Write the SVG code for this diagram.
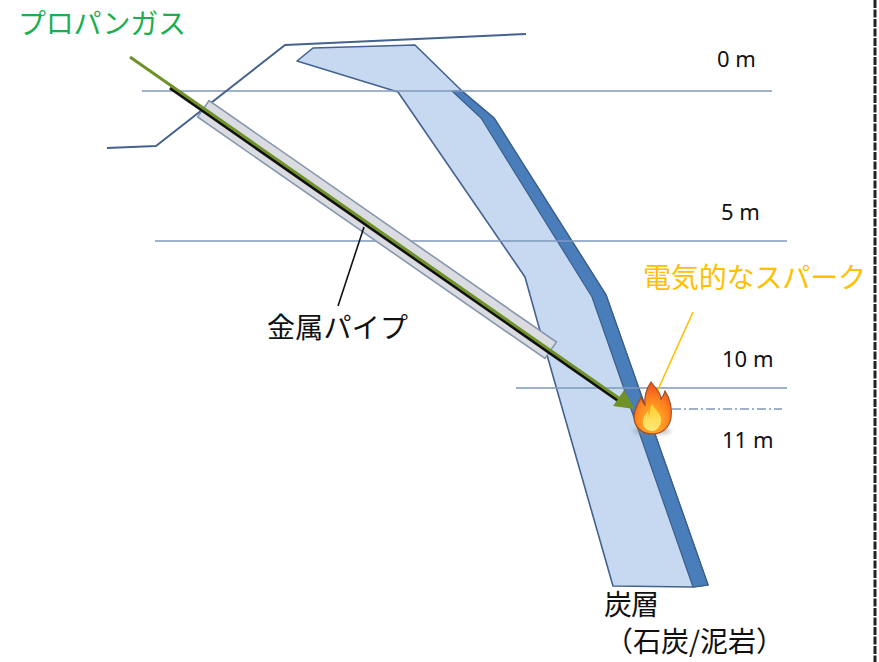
<svg xmlns="http://www.w3.org/2000/svg" width="879" height="662" viewBox="0 0 879 662">
  <defs>
    <style>
      .level { stroke: #7f98bd; stroke-width: 1.5; fill: none; }
      .ground { stroke: #44628f; stroke-width: 2; fill: none; stroke-linejoin: round; }
      .seam { fill: #c6d9f0; stroke: #44628f; stroke-width: 1.6; stroke-linejoin: round; }
      .seam-dark { fill: #4a7ebb; stroke: #3b5f8c; stroke-width: 1.2; stroke-linejoin: round; }
      .depth { font-family: "Noto Sans", "Open Sans", sans-serif; font-size: 22px; fill: #111; }
      .jp { font-family: "Noto Sans CJK JP", "Noto Sans", sans-serif; font-size: 28px; }
      .leader { stroke-width: 1.6; fill: none; }
    </style>
    <marker id="arrowGreen" viewBox="0 0 10 10" refX="9" refY="5" markerWidth="7.5" markerHeight="6.5" orient="auto" markerUnits="strokeWidth">
      <path d="M0,0 L10,5 L0,10 Z" fill="#6f9128"/>
    </marker>
    <radialGradient id="flameOuter" cx="0.5" cy="0.75" r="0.7">
      <stop offset="0" stop-color="#ffc233"/>
      <stop offset="0.55" stop-color="#ff8a1e"/>
      <stop offset="1" stop-color="#f0541e"/>
    </radialGradient>
    <linearGradient id="flameInner" x1="0" y1="0" x2="0" y2="1">
      <stop offset="0" stop-color="#ffcf2e"/>
      <stop offset="1" stop-color="#ffe979"/>
    </linearGradient>
    <filter id="soft" x="-30%" y="-80%" width="160%" height="260%">
      <feGaussianBlur stdDeviation="2"/>
    </filter>
  </defs>

  <rect width="879" height="662" fill="#ffffff"/>

  <!-- coal seam body -->
  <g id="coal-seam">
    <path class="seam" d="M297,61 L313,48 L415,45 L462,91 L494,118 L606,295 L708,585 L693,587 L613,586 L537,320 L525,277 L398,92 Z"/>
    <path class="seam-dark" d="M452,91 L462,91 L494,118 L606,295 L708,585 L693,587 L592,297 L481,118 Z"/>
  </g>

  <!-- depth reference lines -->
  <g id="levels">
    <line class="level" x1="142" y1="91" x2="772" y2="91"/>
    <line class="level" x1="155" y1="241" x2="787" y2="241"/>
    <line class="level" x1="516" y1="388" x2="787" y2="388"/>
    <line class="level" x1="672" y1="409" x2="782" y2="409" stroke-dasharray="9 3 2 3" stroke-width="1.2"/>
  </g>

  <!-- ground surface -->
  <g id="ground">
    <polyline class="ground" points="107,148 156,146 285,45 526,34"/>
  </g>

  <!-- metal pipe -->
  <g id="metal-pipe">
    <rect x="203" y="100" width="423" height="20" transform="rotate(34.8 205 110)" fill="#dadce2" stroke="#8797ae" stroke-width="1.6"/>
  </g>

  <!-- gas injection rod -->
  <g id="connectors">
    <line x1="170" y1="88" x2="620" y2="402" stroke="#111" stroke-width="3"/>
    <line x1="130" y1="57" x2="633" y2="408" stroke="#6f9128" stroke-width="3" marker-end="url(#arrowGreen)"/>
    <line class="leader" x1="338" y1="306" x2="364" y2="227" stroke="#111"/>
    <line class="leader" x1="693" y1="312" x2="656" y2="394" stroke="#ffc000"/>
  </g>

  <!-- spark flame -->
  <g id="spark">
    <ellipse cx="652" cy="431" rx="19" ry="3.5" fill="#8a8a8a" opacity="0.55" filter="url(#soft)"/>
    <path d="M651,382 C656,389 661,392 661,399 C663,397 664,395 665,391 C671,400 672,410 671,418 C669,429 661,434 652,434 C642,434 634,427 634,417 C634,409 639,402 641,397 C642,400 643,403 645,405 C644,396 646,389 651,382 Z" fill="url(#flameOuter)" stroke="#9a4a22" stroke-width="1.1"/>
    <path d="M652,404 C655,410 662,414 661,421 C660,428 655,431 652,431 C647,431 643,427 643,422 C643,417 646,414 648,411 C648,414 649,416 650,418 C649,413 650,408 652,404 Z" fill="url(#flameInner)"/>
  </g>

  <!-- labels -->
  <g id="label-propane">
    <text class="jp" x="18" y="34" fill="#1aaf50" textLength="168" lengthAdjust="spacing">プロパンガス</text>
  </g>
  <g id="label-pipe">
    <text class="jp" x="267" y="338" fill="#111" textLength="141" lengthAdjust="spacing">金属パイプ</text>
  </g>
  <g id="label-spark">
    <text class="jp" x="643" y="288" fill="#ffc000" textLength="223" lengthAdjust="spacing">電気的なスパーク</text>
  </g>
  <g id="label-seam">
    <text class="jp" x="604" y="615" fill="#111" textLength="55" lengthAdjust="spacing">炭層</text>
    <text class="jp" x="605" y="652" fill="#111" font-size="27">（石炭/泥岩）</text>
  </g>
  <g id="depth-labels">
    <text class="depth" x="717" y="67">0 m</text>
    <text class="depth" x="721" y="220">5 m</text>
    <text class="depth" x="722" y="367">10 m</text>
    <text class="depth" x="722" y="448">11 m</text>
  </g>

  <!-- frame edge -->
  <line x1="875" y1="0" x2="875" y2="662" stroke="#222" stroke-width="3" stroke-dasharray="8 1.5"/>
</svg>
